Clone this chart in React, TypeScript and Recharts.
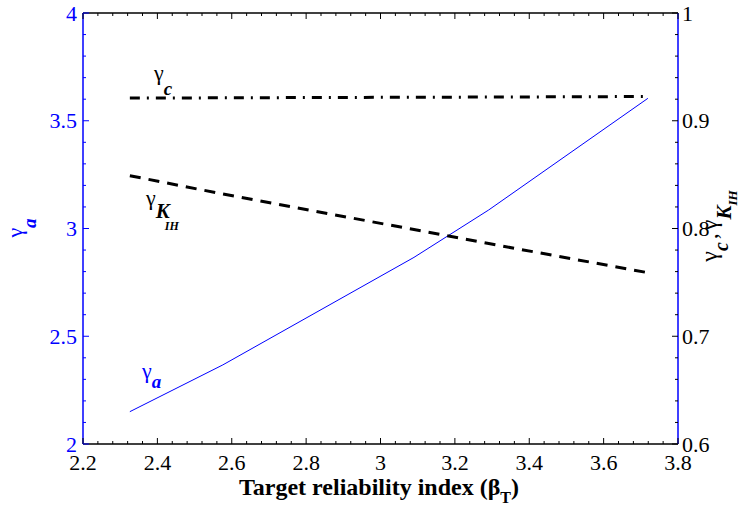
import { ComposedChart, Line, XAxis, YAxis, ReferenceLine } from 'recharts'

// target reliability index values (x) and the three partial factors
const beta = [2.326, 2.576, 3.09, 3.291, 3.719]
const gammaA = [2.15, 2.367, 2.866, 3.086, 3.604]
const gammaC = [0.921, 0.9213, 0.9218, 0.922, 0.9225]
const gammaKIH = [0.849, 0.832, 0.799, 0.786, 0.759]

const xMajor = [2.2, 2.4, 2.6, 2.8, 3, 3.2, 3.4, 3.6, 3.8]
const leftMajor = [2, 2.5, 3, 3.5, 4]
const rightMajor = [0.6, 0.7, 0.8, 0.9, 1]

const data = beta.map((b, i) => ({
  beta: b,
  gammaA: gammaA[i],
  gammaC: gammaC[i],
  gammaKIH: gammaKIH[i],
}))

// 4 minor ticks between each pair of majors, MATLAB style
const withMinor = (major: number[], parts: number) => {
  const out: number[] = []
  major.forEach((m, i) => {
    out.push(m)
    if (i < major.length - 1) {
      const step = (major[i + 1] - m) / parts
      for (let k = 1; k < parts; k++) out.push(+(m + k * step).toFixed(4))
    }
  })
  return out
}
const isMajor = (v: number, major: number[]) => major.some((m) => Math.abs(m - v) < 1e-6)

const W = 744
const H = 508
const PLOT_TOP = 13
const MAJOR_LEN = 6
const MINOR_LEN = 3
const FONT = 'Liberation Serif, Times New Roman, DejaVu Serif, serif'
const BLUE = '#0000ff'
const serif = { fontFamily: FONT }

const XTick = (props: any) => {
  const { x, y, payload } = props
  const v = payload.value
  const major = isMajor(v, xMajor)
  const len = major ? MAJOR_LEN : MINOR_LEN
  return (
    <g>
      <line x1={x} y1={y} x2={x} y2={y - len} stroke="#000" strokeWidth={1} />
      <line x1={x} y1={PLOT_TOP} x2={x} y2={PLOT_TOP + len} stroke="#000" strokeWidth={1} />
      {major && (
        <text x={x} y={y + 26} textAnchor="middle" fontSize={22} style={serif} fill="#000">
          {String(v)}
        </text>
      )}
    </g>
  )
}

const LeftTick = (props: any) => {
  const { x, y, payload } = props
  const v = payload.value
  const major = isMajor(v, leftMajor)
  const len = major ? MAJOR_LEN : MINOR_LEN
  return (
    <g>
      <line x1={x} y1={y} x2={x + len} y2={y} stroke={BLUE} strokeWidth={1} />
      {major && (
        <text x={x - 6} y={y} dy="0.35em" textAnchor="end" fontSize={22} style={serif} fill={BLUE}>
          {String(v)}
        </text>
      )}
    </g>
  )
}

const RightTick = (props: any) => {
  const { x, y, payload } = props
  const v = payload.value
  const major = isMajor(v, rightMajor)
  const len = major ? MAJOR_LEN : MINOR_LEN
  return (
    <g>
      <line x1={x} y1={y} x2={x - len} y2={y} stroke="#000" strokeWidth={1} />
      {major && (
        <text x={x + 4} y={y} dy="0.35em" textAnchor="start" fontSize={22} style={serif} fill="#000">
          {String(v)}
        </text>
      )}
    </g>
  )
}

const subStyle = { fontWeight: 'bold' as const, fontStyle: 'italic' as const }

export default function App() {
  return (
    <div style={{ position: 'absolute', left: 0, top: 0, width: W, height: H, background: '#fff', fontFamily: FONT }}>
      <ComposedChart width={W} height={H} data={data} margin={{ top: PLOT_TOP, right: 0, bottom: 0, left: 0 }}>
        <XAxis
          dataKey="beta"
          type="number"
          domain={[2.2, 3.8]}
          ticks={withMinor(xMajor, 5)}
          interval={0}
          height={64}
          tickSize={0}
          tickMargin={0}
          tick={<XTick />}
          axisLine={{ stroke: '#000', strokeWidth: 1.5 }}
          allowDataOverflow
        />
        <YAxis
          yAxisId="left"
          type="number"
          domain={[2, 4]}
          ticks={withMinor(leftMajor, 5)}
          interval={0}
          width={83}
          tickSize={0}
          tickMargin={0}
          tick={<LeftTick />}
          axisLine={{ stroke: BLUE, strokeWidth: 1.5 }}
          allowDataOverflow
        />
        <YAxis
          yAxisId="right"
          orientation="right"
          type="number"
          domain={[0.6, 1]}
          ticks={withMinor(rightMajor, 5)}
          interval={0}
          width={66}
          tickSize={0}
          tickMargin={0}
          tick={<RightTick />}
          axisLine={{ stroke: BLUE, strokeWidth: 1.5 }}
          allowDataOverflow
        />
        <ReferenceLine yAxisId="left" y={4} stroke="#000" strokeWidth={1.5} />
        <Line
          yAxisId="left"
          dataKey="gammaA"
          type="linear"
          stroke={BLUE}
          strokeWidth={1}
          dot={false}
          isAnimationActive={false}
        />
        <Line
          yAxisId="right"
          dataKey="gammaC"
          type="linear"
          stroke="#000"
          strokeWidth={3}
          strokeDasharray="10 7 2 7"
          dot={false}
          isAnimationActive={false}
        />
        <Line
          yAxisId="right"
          dataKey="gammaKIH"
          type="linear"
          stroke="#000"
          strokeWidth={3}
          strokeDasharray="11 8"
          dot={false}
          isAnimationActive={false}
        />
      </ComposedChart>
      <svg
        width={W}
        height={H}
        style={{ position: 'absolute', left: 0, top: 0, pointerEvents: 'none', fontFamily: FONT }}
      >
        {/* in-plot curve labels */}
        <text x={154} y={80} fontSize={22} fill="#000" style={serif}>
          γ<tspan dy={15} fontSize={19} {...subStyle}>c</tspan>
        </text>
        <text x={146} y={205} fontSize={22} fill="#000" style={serif}>
          γ<tspan dy={13} fontSize={21} {...subStyle}>K</tspan>
          <tspan dy={12} dx={-5} fontSize={12} {...subStyle}>IH</tspan>
        </text>
        <text x={142} y={378} fontSize={22} fill={BLUE} style={serif}>
          γ<tspan dy={10} fontSize={19} {...subStyle}>a</tspan>
        </text>

        {/* axis titles */}
        <text x={379} y={495} textAnchor="middle" fontSize={24} fontWeight="bold" fill="#000" style={serif}>
          Target reliability index (β<tspan dy={8} fontSize={16}>T</tspan>
          <tspan dy={-8}>)</tspan>
        </text>
        <text transform="translate(22,228) rotate(-90)" textAnchor="middle" fontSize={22} fill={BLUE} style={serif}>
          γ<tspan dy={14} fontSize={19} {...subStyle}>a</tspan>
        </text>
        <text transform="translate(717,226) rotate(-90)" textAnchor="middle" fontSize={24} fill="#000" style={serif}>
          γ<tspan dy={11} fontSize={20} {...subStyle}>c</tspan>
          <tspan dy={-11} dx={3}>,</tspan>
          <tspan dx={3}>γ</tspan>
          <tspan dy={14} fontSize={21} {...subStyle}>K</tspan>
          <tspan dy={6} fontSize={13} {...subStyle}>IH</tspan>
        </text>
      </svg>
    </div>
  )
}
